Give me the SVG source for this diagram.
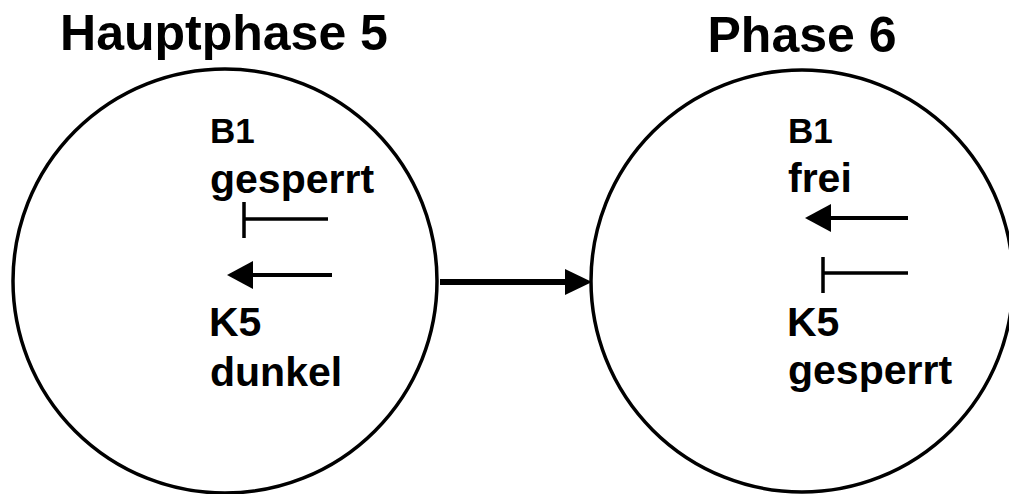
<svg xmlns="http://www.w3.org/2000/svg" width="1009" height="494" viewBox="0 0 1009 494">
<style>
.title{font-family:"Liberation Sans",Arial,sans-serif;font-weight:bold;font-size:50px;fill:#000;text-anchor:middle}
.lbl{font-family:"Liberation Sans",Arial,sans-serif;font-weight:bold;font-size:41px;fill:#000}
.lbls{font-family:"Liberation Sans",Arial,sans-serif;font-weight:bold;font-size:35px;fill:#000}
.ring{fill:none;stroke:#000;stroke-width:3.5}
.act{fill:none;stroke:#000;stroke-width:4;marker-end:url(#ah)}
.inh{fill:none;stroke:#000;stroke-width:3.5}
.conn{fill:none;stroke:#000;stroke-width:6;marker-end:url(#ahb)}
</style>
<defs>
<marker id="ah" markerUnits="userSpaceOnUse" markerWidth="28" markerHeight="30" refX="16" refY="14" orient="auto">
<path d="M0,0 L26,14 L0,28 Z" fill="#000"/>
</marker>
<marker id="ahb" markerUnits="userSpaceOnUse" markerWidth="29" markerHeight="28" refX="17" refY="13" orient="auto">
<path d="M0,0 L27,13 L0,26 Z" fill="#000"/>
</marker>
</defs>
<rect width="1009" height="494" fill="#fff"/>
<g id="hauptphase5">
<text class="title" x="224" y="50">Hauptphase 5</text>
<circle class="ring" cx="225" cy="281" r="212"/>
<text class="lbls" x="210" y="143">B1</text>
<text class="lbl" x="210" y="193">gesperrt</text>
<path class="inh" d="M328,219 H244 M244,202 V238"/>
<path class="act" d="M332,275 H237"/>
<text class="lbl" x="209" y="336">K5</text>
<text class="lbl" x="210" y="386">dunkel</text>
</g>
<g id="phase6">
<text class="title" x="802" y="52">Phase 6</text>
<circle class="ring" cx="802" cy="281" r="211"/>
<text class="lbls" x="788" y="143">B1</text>
<text class="lbl" x="788" y="192">frei</text>
<path class="act" d="M908,218 H815"/>
<path class="inh" d="M908,273 H823 M823,257 V293"/>
<text class="lbl" x="787" y="336">K5</text>
<text class="lbl" x="788" y="384">gesperrt</text>
</g>
<g id="connectors">
<path class="conn" d="M440,282 H582"/>
</g>
</svg>
